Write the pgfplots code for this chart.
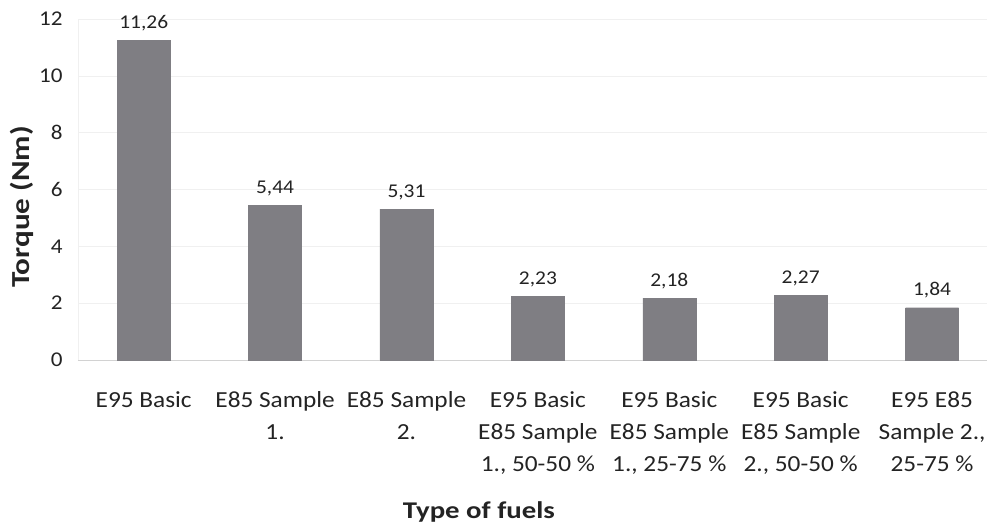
\documentclass[border=0pt]{standalone}
\usepackage{pgfplots}
\pgfplotsset{compat=1.18}
\usepackage{fontspec}
\setmainfont{Carlito}[FakeStretch=1.1]
\newfontfamily\titlefont{Carlito}[FakeStretch=1.2]
\definecolor{bargray}{RGB}{127,126,131}
\definecolor{txt}{RGB}{35,35,35}

\begin{document}
\begin{tikzpicture}[x=1bp,y=1bp]
\begin{axis}[
    name=ax,
    scale only axis,
    width=909bp, height=341bp,
    xmin=-0.5, xmax=6.418,
    ymin=0, ymax=12,
    ytick={0,2,...,12},
    xtick={0,...,6},
    xticklabels={E95 Basic,
                 E85 Sample\\1.,
                 E85 Sample\\2.,
                 E95 Basic\\E85 Sample\\1.{,} 50-50 \%,
                 E95 Basic\\E85 Sample\\1.{,} 25-75 \%,
                 E95 Basic\\E85 Sample\\2.{,} 50-50 \%,
                 E95 E85\\Sample 2.{,}\\25-75 \%},
    xticklabel style={font=\fontsize{23bp}{32bp}\selectfont, align=center, text=txt, yshift=-28bp},
    /pgf/number format/assume math mode=true,
    yticklabel={\pgfmathprintnumber[assume math mode=true]{\tick}},
    yticklabel style={font=\fontsize{21bp}{24bp}\selectfont, text=txt, xshift=-12bp},
    major tick length=0pt,
    axis lines=left,
    axis line style={-},
    x axis line style={draw=gray!35},
    y axis line style={draw=gray!12},
    ymajorgrids,
    grid style={draw=gray!12},
    ylabel={\titlefont\bfseries Torque (Nm)},
    ylabel style={font=\fontsize{26bp}{28bp}\selectfont, text=txt, at={(axis description cs:-0.0616,0.449)}, anchor=center},
    xlabel={\titlefont\bfseries Type of fuels},
    xlabel style={font=\fontsize{24bp}{28bp}\selectfont, text=txt, at={(axis description cs:0.441,-0.445)}, anchor=center},
    ybar,
    bar width=53bp,
    nodes near coords={\pgfmathprintnumber[fixed,precision=2,fixed zerofill,use comma,assume math mode=true]{\pgfplotspointmeta}},
    nodes near coords style={font=\fontsize{19.5bp}{22bp}\selectfont, text=txt, yshift=6bp},
]
\addplot[fill=bargray, draw=bargray] coordinates {
  (0,11.26) (1,5.44) (2,5.31) (3,2.23) (4,2.18) (5,2.27) (6,1.84)
};
\end{axis}
\pgfresetboundingbox
\path[use as bounding box] ([xshift=-78bp,yshift=-166bp]ax.south west) rectangle ([yshift=19bp]ax.north east);
\end{tikzpicture}
\end{document}
